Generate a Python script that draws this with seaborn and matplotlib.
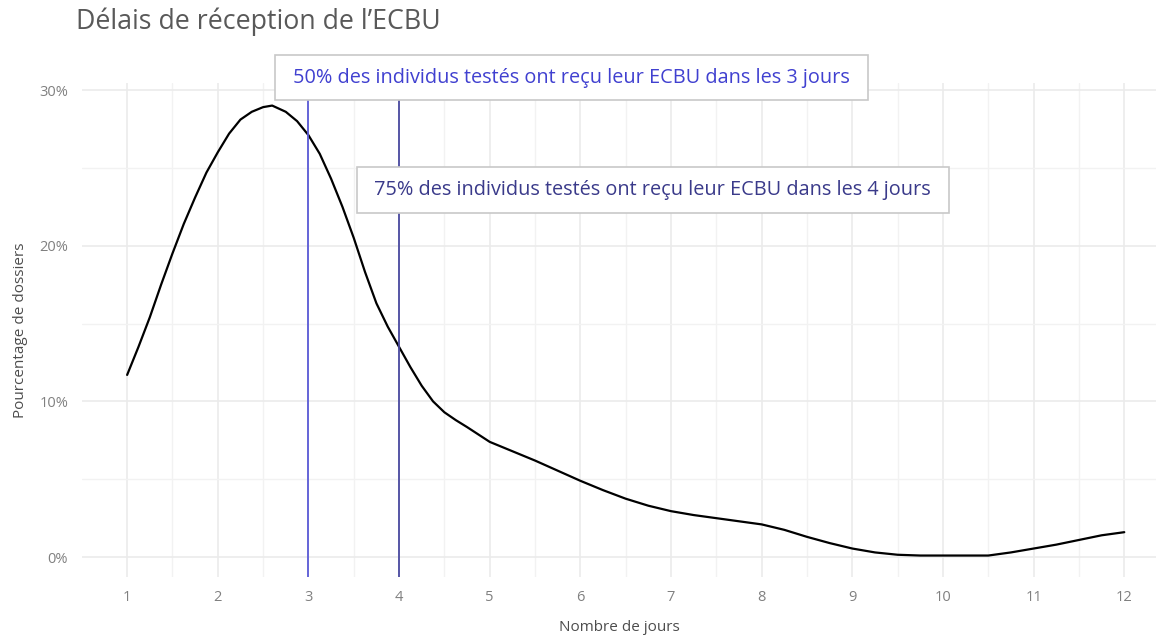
import numpy as np
import pandas as pd
import seaborn as sns
import matplotlib.pyplot as plt
from matplotlib.ticker import MultipleLocator, FuncFormatter

# Délai (jours) et pourcentage de dossiers
jours = [1.0, 1.125, 1.25, 1.375, 1.5, 1.625, 1.75, 1.875, 2.0, 2.125, 2.25, 2.375,
         2.5, 2.6, 2.75, 2.875, 3.0, 3.125, 3.25, 3.375, 3.5, 3.625, 3.75, 3.875,
         4.0, 4.125, 4.25, 4.375, 4.5, 4.625, 4.75, 5.0, 5.25, 5.5, 5.75, 6.0,
         6.25, 6.5, 6.75, 7.0, 7.25, 7.5, 7.75, 8.0, 8.25, 8.5, 8.75, 9.0, 9.25,
         9.5, 9.75, 10.0, 10.25, 10.5, 10.75, 11.0, 11.25, 11.5, 11.75, 12.0]
pourcentage = [11.7, 13.5, 15.4, 17.5, 19.5, 21.4, 23.1, 24.7, 26.0, 27.2, 28.1, 28.6,
               28.9, 29.0, 28.6, 28.0, 27.1, 25.9, 24.3, 22.5, 20.5, 18.3, 16.3, 14.8,
               13.5, 12.2, 11.0, 10.0, 9.3, 8.8, 8.35, 7.4, 6.8, 6.2, 5.55, 4.9,
               4.3, 3.75, 3.3, 2.95, 2.7, 2.5, 2.3, 2.1, 1.75, 1.3, 0.9, 0.55, 0.3,
               0.15, 0.1, 0.1, 0.1, 0.1, 0.3, 0.55, 0.8, 1.1, 1.4, 1.6]

# quantiles du délai
mediane = 3
q75 = 4
texte_50 = "50% des individus testés ont reçu leur ECBU dans les 3 jours"
texte_75 = "75% des individus testés ont reçu leur ECBU dans les 4 jours"

df = pd.DataFrame({"jours": jours, "pct": pourcentage})

sns.set_style("white")
plt.rcParams['font.family'] = ['Open Sans', 'DejaVu Sans']

fig = plt.figure(figsize=(11.56, 6.35), dpi=100)
ax = fig.add_axes([0.071, 0.0913, 0.929, 0.778])

sns.lineplot(data=df, x="jours", y="pct", color="black", linewidth=1.6, ax=ax)

ax.axvline(mediane, color="#5a5ad6", linewidth=1.3, zorder=3)
ax.axvline(q75, color="#4a4aa0", linewidth=1.3, zorder=3)

ax.set_xlim(0.503, 12.35)
ax.set_ylim(-1.28, 30.45)
ax.xaxis.set_major_locator(MultipleLocator(1))
ax.xaxis.set_minor_locator(MultipleLocator(0.5))
ax.yaxis.set_major_locator(MultipleLocator(10))
ax.yaxis.set_minor_locator(MultipleLocator(5))
ax.yaxis.set_major_formatter(FuncFormatter(lambda v, p: f"{v:.0f}%"))
ax.grid(which="major", color="#ebebeb", linewidth=1.2)
ax.grid(which="minor", color="#f2f2f2", linewidth=1.0)
ax.set_axisbelow(True)
for s in ax.spines.values():
    s.set_visible(False)
ax.tick_params(which="both", length=0, colors="#808080", labelsize=10.5)
ax.tick_params(axis="y", pad=10)
ax.tick_params(axis="x", pad=9)

ax.set_xlabel("Nombre de jours", color="#4d4d4d", fontsize=11, labelpad=11)
ax.set_ylabel("Pourcentage de dossiers", color="#4d4d4d", fontsize=11, labelpad=8)

# un espace de chaque côté pour élargir un peu les cadres
ax.text(5.9, 30.8, " " + texte_50 + " ", color="#4040d0", fontsize=14.3,
        ha="center", va="center", clip_on=False, zorder=5,
        bbox=dict(boxstyle="square,pad=0.65", fc="white", ec="#c8c8c8", lw=1.2))
ax.text(6.8, 23.6, " " + texte_75 + " ", color="#3a3a8a", fontsize=14.3,
        ha="center", va="center", zorder=5,
        bbox=dict(boxstyle="square,pad=0.65", fc="white", ec="#c8c8c8", lw=1.2))

fig.text(0.066, 0.965, "Délais de réception de l’ECBU", color="#595959", fontsize=19.3,
         ha="left", va="center")

fig.savefig("out.png", dpi=100)
